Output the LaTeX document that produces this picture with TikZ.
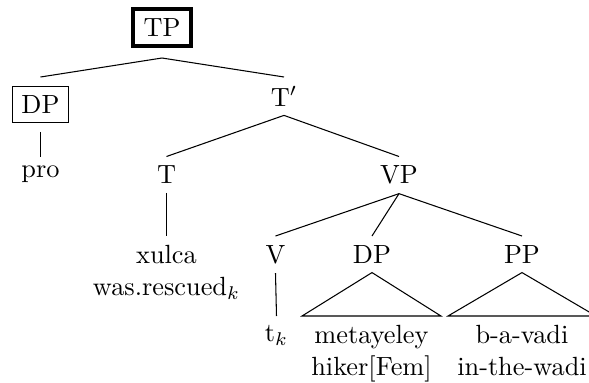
\documentclass[tikz,border=0pt]{standalone}
\usepackage{tikz}

\tikzset{
  cat/.style={anchor=north},
  leaf/.style={anchor=north, align=center},
  boxcat/.style={draw, anchor=north, outer sep=3.7pt},
  rootcat/.style={draw, line width=1.5pt, inner xsep=4pt, inner ysep=3.6pt, outer sep=4.5pt, anchor=south}
}

\begin{document}
\begin{tikzpicture}[x=0.38pt, y=-0.38pt]
        \useasboundingbox (0,0) rectangle (589,383);

        % categories
        \node[rootcat] (TP)   at (162,58)    {TP};
        \node[boxcat]  (DPs)  at (40.5,77)   {DP};
        \node[cat]     (Tbar) at (284,77)    {T$'$};
        \node[cat]     (T)    at (166.5,156.5) {T};
        \node[cat]     (VP)   at (399,156.5) {VP};
        \node[cat]     (V)    at (275.5,236) {V};
        \node[cat]     (DPo)  at (372,236)   {DP};
        \node[cat]     (PP)   at (522,236)   {PP};

        % words
        \node[leaf] (pro)   at (40.5,156.5)  {pro};
        \node[leaf] (xulca) at (166.5,236)   {xulca\\was.rescued$_k$};
        \node[leaf] (tk)    at (276.5,316)   {t$_k$};
        \node[leaf] (hiker) at (371.5,316)   {metayeley\\hiker[Fem]};
        \node[leaf] (wadi)  at (522,316)     {b-a-vadi\\in-the-wadi};

        \path[draw]
        (TP.south) edge (DPs.north)
                   edge (Tbar.north)
        (DPs.south) edge (pro.north)
        (Tbar.south) edge (T.north)
                     edge (VP.north)
        (T.south) edge (xulca.north)
        (VP.south) edge (V.north)
                   edge (DPo.north)
                   edge (PP.north)
        (V.south) edge (tk.north);

        % roofs
        \draw (DPo.south) -- (hiker.north west) -- (hiker.north east) -- cycle;
        \draw (PP.south) -- (wadi.north west) -- (wadi.north east) -- cycle;
    \end{tikzpicture}
\end{document}
